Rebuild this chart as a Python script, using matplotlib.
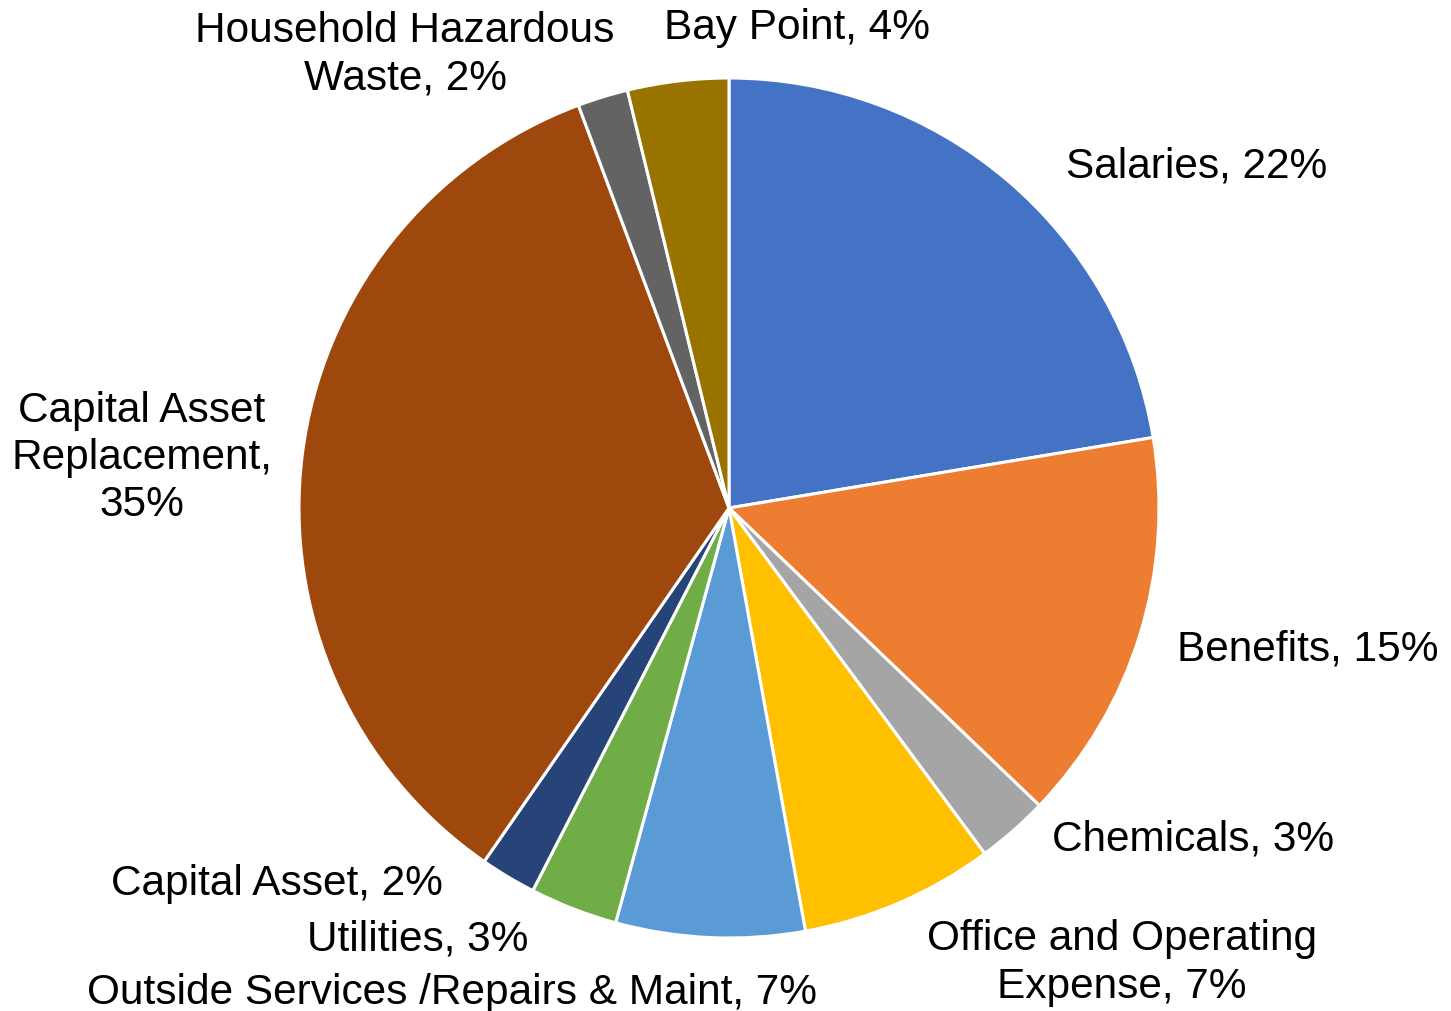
import matplotlib.pyplot as plt

# ---------------- DATA ----------------
categories = [
    "Salaries",
    "Benefits",
    "Chemicals",
    "Office and Operating\nExpense",
    "Outside Services /Repairs & Maint",
    "Utilities",
    "Capital Asset",
    "Capital Asset\nReplacement,\n",
    "Household Hazardous\nWaste",
    "Bay Point",
]
shares = [22.4, 14.8, 2.7, 7.3, 7.1, 3.3, 2.1, 34.7, 1.9, 3.8]
colors = ["#4472C4", "#ED7D31", "#A5A5A5", "#FFC000", "#5B9BD5",
          "#70AD47", "#264478", "#9E480E", "#636363", "#997300"]

# label anchor points (pixels from top-left of the image)
label_px = [(1197, 166), (1308, 650), (1193, 840), (1122, 963), (452, 993),
            (418, 940), (277, 884), (142, 458), (405, 55), (797, 28)]

# ---------------- LAYOUT ----------------
W, H = 1451, 1012
CX, CY, R = 729, 509, 430

plt.rcParams['font.family'] = ['Liberation Sans', 'DejaVu Sans']

fig = plt.figure(figsize=(W / 100, H / 100), dpi=100)
ax = fig.add_axes([0, 0, 1, 1])

ax.pie(shares, colors=colors, startangle=90, counterclock=False,
       radius=1.0, center=(0, 0),
       wedgeprops=dict(edgecolor="white", linewidth=2.2))

ax.set_xlim(-CX / R, (W - CX) / R)
ax.set_ylim(-(H - CY) / R, CY / R)
ax.set_aspect('equal')
ax.axis('off')

for name, val, (px, py) in zip(categories, shares, label_px):
    if name.endswith("\n"):
        txt = f"{name}{round(val)}%"
    else:
        txt = f"{name}, {round(val)}%"
    x = (px - CX) / R
    y = (CY - py) / R
    ax.text(x, y, txt, ha='center', va='center', multialignment='center',
            fontsize=30.5, color='black', linespacing=1.23)

fig.savefig("out.png", dpi=100)
